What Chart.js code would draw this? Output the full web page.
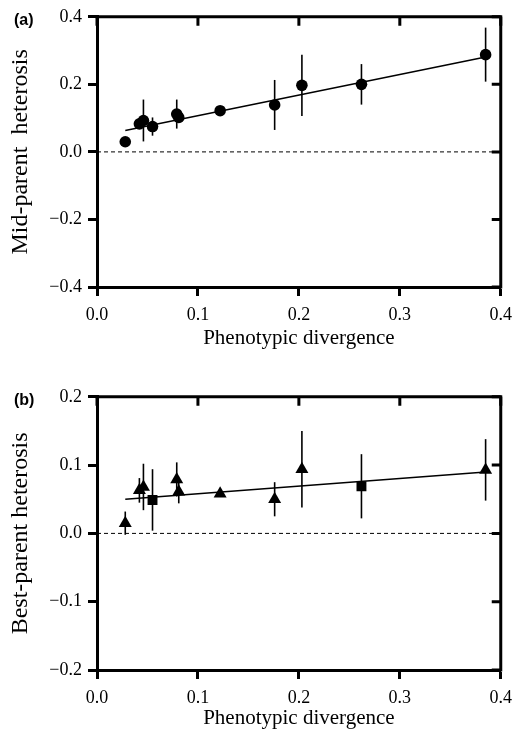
<!DOCTYPE html>
<html>
<head>
<meta charset="utf-8">
<script src="https://cdn.jsdelivr.net/npm/chart.js@4.4.1/dist/chart.umd.min.js"></script>
<style>
  body { margin: 0; background: #fff; }
  .panel { position: absolute; left: 0; width: 520px; }
  #boxA { top: 0; height: 353px; }
  #boxB { top: 380px; height: 353px; }
</style>
</head>
<body>
<div class="panel" id="boxA"><canvas id="chartA"></canvas></div>
<div class="panel" id="boxB"><canvas id="chartB"></canvas></div>
<script>
// shared x values (phenotypic divergence)
const xTicks = [0, 0.1, 0.2, 0.3, 0.4];

// panel (a): mid-parent heterosis
const xA   = [0.028, 0.042, 0.046, 0.055, 0.079, 0.081, 0.122, 0.176, 0.203, 0.262, 0.385];
const yA   = [0.030, 0.083, 0.093, 0.075, 0.112, 0.102, 0.122, 0.139, 0.197, 0.200, 0.288];
const errA = [0, 0, 0.062, 0.027, 0.043, 0, 0, 0.074, 0.091, 0.060, 0.080];
const fitA = [0.0465, 0.609];   // intercept, slope
const yTicksA = [-0.4, -0.2, 0, 0.2, 0.4];

// panel (b): best-parent heterosis, triangles and squares
const xTriB   = [0.028, 0.042, 0.046, 0.079, 0.081, 0.122, 0.176, 0.203, 0.385];
const yTriB   = [0.015, 0.063, 0.068, 0.079, 0.061, 0.058, 0.050, 0.094, 0.093];
const errTriB = [0.017, 0.018, 0.034, 0.025, 0.017, 0, 0.025, 0.056, 0.045];
const xSqB    = [0.055, 0.262];
const ySqB    = [0.049, 0.069];
const errSqB  = [0.045, 0.047];
const fitB = [0.0469, 0.112];
const yTicksB = [-0.2, -0.1, 0, 0.1, 0.2];

const fmt = v => (v < 0 ? '\u2212' + Math.abs(v).toFixed(1) : v.toFixed(1));
const serif = 'Liberation Serif';

const errorBars = {
  id: 'errorBars',
  beforeDatasetsDraw(chart) {
    const { ctx, scales: { x, y } } = chart;
    ctx.save();
    ctx.strokeStyle = '#000';
    ctx.lineWidth = 1.6;
    chart.data.datasets.forEach(ds => {
      if (!ds.errorBars) return;
      ds.data.forEach((p, i) => {
        const e = ds.errorBars[i];
        if (!e) return;
        const px = x.getPixelForValue(p.x);
        ctx.beginPath();
        ctx.moveTo(px, y.getPixelForValue(p.y - e));
        ctx.lineTo(px, y.getPixelForValue(p.y + e));
        ctx.stroke();
      });
    });
    ctx.restore();
  }
};

// top/right border with inward ticks
const frame = {
  id: 'frame',
  afterDraw(chart) {
    const { ctx, chartArea: { top, right, bottom, left }, scales: { x, y } } = chart;
    ctx.save();
    ctx.strokeStyle = '#000';
    ctx.lineWidth = 3;
    ctx.beginPath();
    ctx.moveTo(left - 1.5, top);
    ctx.lineTo(right, top);
    ctx.lineTo(right, bottom + 1.5);
    ctx.stroke();
    ctx.beginPath();
    x.ticks.forEach(t => {
      const px = x.getPixelForValue(t.value);
      ctx.moveTo(px, top);
      ctx.lineTo(px, top + 9);
    });
    y.ticks.forEach(t => {
      const py = y.getPixelForValue(t.value);
      ctx.moveTo(right, py);
      ctx.lineTo(right - 9, py);
    });
    ctx.stroke();
    ctx.restore();
  }
};

const panelLetter = {
  id: 'panelLetter',
  afterDraw(chart, args, opts) {
    const ctx = chart.ctx;
    ctx.save();
    ctx.fillStyle = '#000';
    ctx.font = 'bold 16px "Liberation Sans"';
    ctx.textBaseline = 'alphabetic';
    ctx.fillText(opts.text, 14, 25);
    ctx.restore();
  }
};

function fitLine(fit, xs) {
  const lo = Math.min(...xs), hi = Math.max(...xs);
  return [{ x: lo, y: fit[0] + fit[1] * lo }, { x: hi, y: fit[0] + fit[1] * hi }];
}

function buildPanel(id, cfg) {
  return new Chart(document.getElementById(id), {
    type: 'scatter',
    data: { datasets: cfg.datasets },
    plugins: [errorBars, frame, panelLetter],
    options: {
      responsive: true,
      maintainAspectRatio: false,
      animation: false,
      layout: { padding: { top: 14, right: 11, left: 0, bottom: 0 } },
      plugins: {
        legend: { display: false },
        tooltip: { enabled: false },
        panelLetter: { text: cfg.letter }
      },
      scales: {
        x: {
          type: 'linear', min: 0, max: 0.4,
          afterBuildTicks: s => { s.ticks = xTicks.map(v => ({ value: v })); },
          afterFit: s => { s.height = cfg.xAxisHeight; },
          grid: { drawOnChartArea: false, tickLength: 9, tickWidth: 3, color: '#000' },
          border: { color: '#000', width: 3 },
          ticks: { color: '#000', font: { family: serif, size: 18 }, padding: 8, maxRotation: 0, callback: fmt },
          title: { display: true, text: 'Phenotypic divergence', color: '#000',
                   font: { family: serif, size: 21 }, padding: { top: 0, bottom: 2 } }
        },
        y: {
          type: 'linear', min: cfg.yTicks[0], max: cfg.yTicks[cfg.yTicks.length - 1],
          afterBuildTicks: s => { s.ticks = cfg.yTicks.map(v => ({ value: v })); },
          afterFit: s => { s.width = 97; },
          grid: { drawOnChartArea: false, tickLength: 9, tickWidth: 3, color: '#000' },
          border: { color: '#000', width: 3 },
          ticks: { color: '#000', font: { family: serif, size: 18 }, padding: 6, callback: fmt },
          title: { display: true, text: cfg.yTitle, color: '#000',
                   font: { family: serif, size: 24 }, padding: { top: 6, bottom: 0 } }
        }
      }
    }
  });
}

const lineStyle = { type: 'line', borderColor: '#000', pointRadius: 0, fill: false, order: 2 };
const zeroLine = { ...lineStyle, data: [{ x: xTicks[0], y: 0 }, { x: xTicks[xTicks.length - 1], y: 0 }],
                   borderWidth: 1, borderDash: [4, 3], order: 3 };

buildPanel('chartA', {
  letter: '(a)',
  yTitle: 'Mid-parent  heterosis',
  yTicks: yTicksA,
  xAxisHeight: 66,
  datasets: [
    { data: xA.map((x, i) => ({ x, y: yA[i] })), errorBars: errA, pointStyle: 'circle',
      pointRadius: 5.8, backgroundColor: '#000', borderColor: '#000', borderWidth: 0, order: 0 },
    { ...lineStyle, data: fitLine(fitA, xA), borderWidth: 1.5 },
    zeroLine
  ]
});

buildPanel('chartB', {
  letter: '(b)',
  yTitle: 'Best-parent heterosis',
  yTicks: yTicksB,
  xAxisHeight: 63,
  datasets: [
    { data: xTriB.map((x, i) => ({ x, y: yTriB[i] })), errorBars: errTriB, pointStyle: 'triangle',
      pointRadius: 7.5, backgroundColor: '#000', borderColor: '#000', borderWidth: 0, order: 0 },
    { data: xSqB.map((x, i) => ({ x, y: ySqB[i] })), errorBars: errSqB, pointStyle: 'rect',
      pointRadius: 7, backgroundColor: '#000', borderColor: '#000', borderWidth: 0, order: 0 },
    { ...lineStyle, data: fitLine(fitB, [...xTriB, ...xSqB]), borderWidth: 1.5 },
    { ...zeroLine }
  ]
});
</script>
</body>
</html>
